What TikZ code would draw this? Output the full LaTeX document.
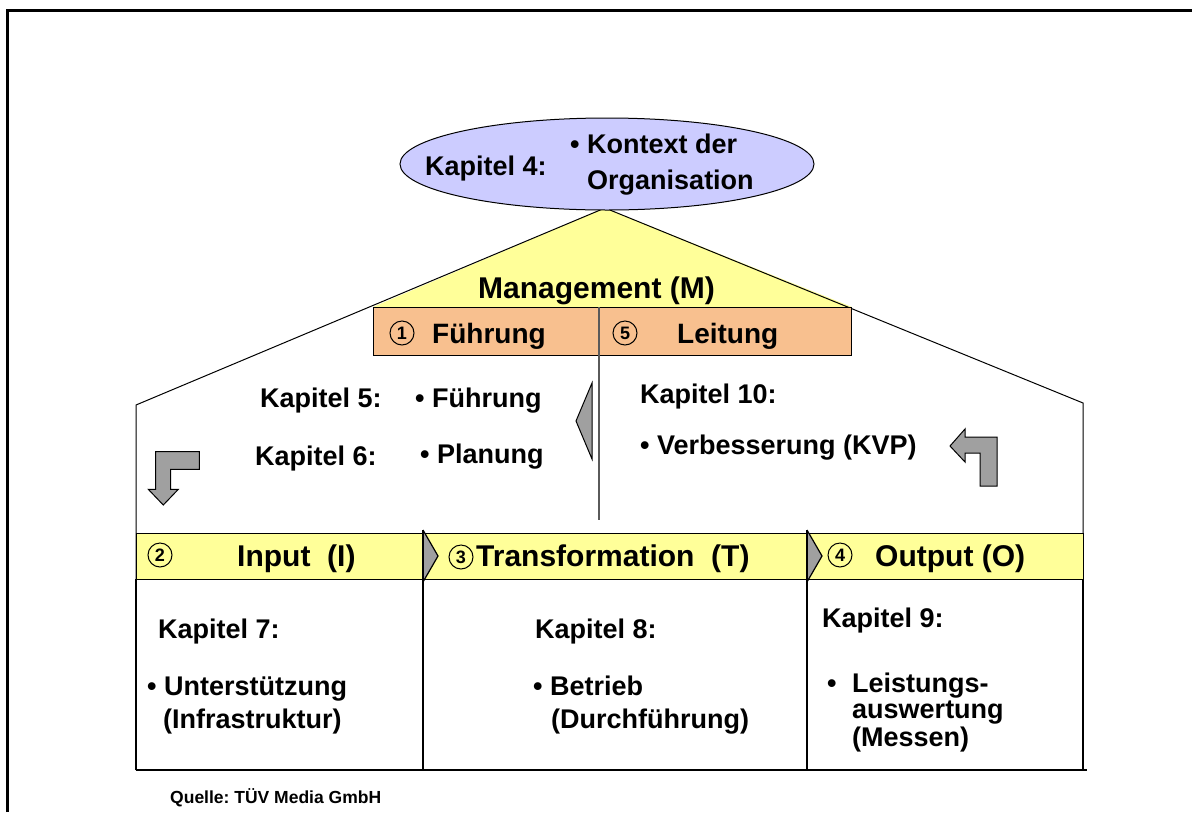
\documentclass[tikz,border=0pt]{standalone}
\usepackage{fontspec}
\setmainfont{Liberation Sans}
\usetikzlibrary{shapes.geometric}
\definecolor{lavender}{RGB}{204,204,255}
\definecolor{paleyellow}{RGB}{255,255,153}
\definecolor{salmon}{RGB}{248,192,143}
\definecolor{arrowgray}{RGB}{160,160,160}
\definecolor{divgray}{RGB}{90,90,90}
\frenchspacing
\tikzset{
  txt/.style={inner sep=0pt, anchor=base west, font=\fontsize{27}{32}\selectfont\bfseries},
  big/.style={txt, font=\fontsize{30}{36}\selectfont\bfseries},
  small/.style={txt, font=\fontsize{17.5}{21}\selectfont\bfseries},
  num/.style={circle, draw, line width=1pt, inner sep=0pt, minimum size=24pt,
              font=\fontsize{18}{20}\selectfont\bfseries},
  band/.style={draw, line width=1pt, fill=paleyellow, inner sep=0pt, anchor=north west, minimum height=46pt},
  mgmt/.style={draw, line width=1pt, fill=salmon, inner sep=0pt, anchor=north west, minimum height=48pt},
  wall/.style={line width=1pt},
  cell/.style={line width=1.2pt},
  bent/.style={fill=arrowgray, draw=black, line width=1pt},
}
\begin{document}
\begin{tikzpicture}[x=1pt,y=-1pt]
\useasboundingbox (0,0) rectangle (1192,812);
\fill[white] (0,0) rectangle (1192,812);
% outer frame
\draw[line width=3pt] (7,812) -- (7,10) -- (1192,10);

% roof
\coordinate (apex) at (605,208);
\coordinate (eaveL) at (136,405);
\coordinate (eaveR) at (1083,403);
\fill[paleyellow] (apex) -- (373,307) -- (852,307) -- cycle;
\draw[wall] (136,770) -- (eaveL) -- (apex) -- (eaveR) -- (1083,770);

% context ellipse
\node[ellipse, draw, line width=1pt, fill=lavender, minimum width=414pt, minimum height=92pt] (ctx) at (607,164) {};
\node[txt] (k4) at (425,175) {Kapitel 4:};
\node[txt] (ctx1) at (570,153) {• Kontext der};
\node[txt] (ctx2) at (587,189) {Organisation};

% management
\node[big] (mg) at (478,298) {Management (M)};
\node[mgmt, minimum width=226pt] (fbox) at (373,307) {};
\node[mgmt, minimum width=252pt] (lbox) at (599,307) {};
\draw[divgray, line width=1.6pt] (599,307) -- (599,520);
\node[num] (n1) at (402,333) {1};
\node[txt, font=\fontsize{28}{32}\selectfont\bfseries] (fl) at (432,343) {Führung};
\node[num] (n5) at (625,333) {5};
\node[txt, font=\fontsize{28}{32}\selectfont\bfseries] (ll) at (677,343) {Leitung};

% chapters 5, 6, 10
\node[txt] (k5) at (260,407) {Kapitel 5:};
\node[txt] (k5t) at (415,407) {• Führung};
\node[txt] (k6) at (255,465) {Kapitel 6:};
\node[txt] (k6t) at (420,463) {• Planung};
\node[txt] (k10) at (640,403) {Kapitel 10:};
\node[txt] (k10t) at (640,454) {• Verbesserung (KVP)};

% small pointer left of the divider
\draw[bent] (592,383) -- (592,459) -- (576,421) -- cycle;

% bent arrows
\draw[bent] (155.7,451.7) -- (199.3,451.7) -- (199.3,469.3) -- (170.7,469.3) -- (170.7,489.3)
  -- (178.3,489.3) -- (163.3,505) -- (148.3,489.3) -- (155.7,489.3) -- cycle;
\draw[bent] (997,437) -- (997,486) -- (980,486) -- (980,453) -- (965,453)
  -- (965,462) -- (950,446) -- (965,429) -- (965,437) -- cycle;

% process band
\node[band, minimum width=287pt] (inp) at (136,533) {};
\node[band, minimum width=384pt] (trf) at (423,533) {};
\node[band, minimum width=276pt] (outp) at (807,533) {};
\draw[fill=arrowgray, draw=none] (423,530) -- (438,556) -- (423,582) -- cycle;
\draw[line width=1.2pt] (423,530) -- (438,556) -- (423,582);
\draw[fill=arrowgray, draw=none] (807,530) -- (822,556) -- (807,582) -- cycle;
\draw[line width=1.2pt] (807,530) -- (822,556) -- (807,582);
\node[num] (n2) at (160,555) {2};
\node[big] (it) at (237,566) {Input\ \ (I)};
\node[num] (n3) at (461,557) {3};
\node[big] (tt) at (476,566) {Transformation\ \ (T)};
\node[num] (n4) at (840,555) {4};
\node[big] (ot) at (875,566) {Output (O)};

% lower cells
\draw[cell] (136,579) -- (136,770);
\draw[cell] (423,530) -- (423,770);
\draw[cell] (807,530) -- (807,770);
\draw[cell] (1083,579) -- (1083,770);
\draw[cell] (136,770) -- (1087,770);

\node[txt] (k7) at (158,638) {Kapitel 7:};
\node[txt] (k7a) at (147,695) {• Unterstützung};
\node[txt] (k7b) at (163,728) {(Infrastruktur)};
\node[txt] (k8) at (535,638) {Kapitel 8:};
\node[txt] (k8a) at (533,695) {• Betrieb};
\node[txt] (k8b) at (551,728) {(Durchführung)};
\node[txt] (k9) at (822,627) {Kapitel 9:};
\node[txt] (k9dot) at (827,692) {•};
\node[txt] (k9a) at (852,692) {Leistungs-};
\node[txt] (k9b) at (852,718) {auswertung};
\node[txt] (k9c) at (852,746) {(Messen)};

\node[small] (src) at (170,803) {Quelle: TÜV Media GmbH};
\end{tikzpicture}
\end{document}
